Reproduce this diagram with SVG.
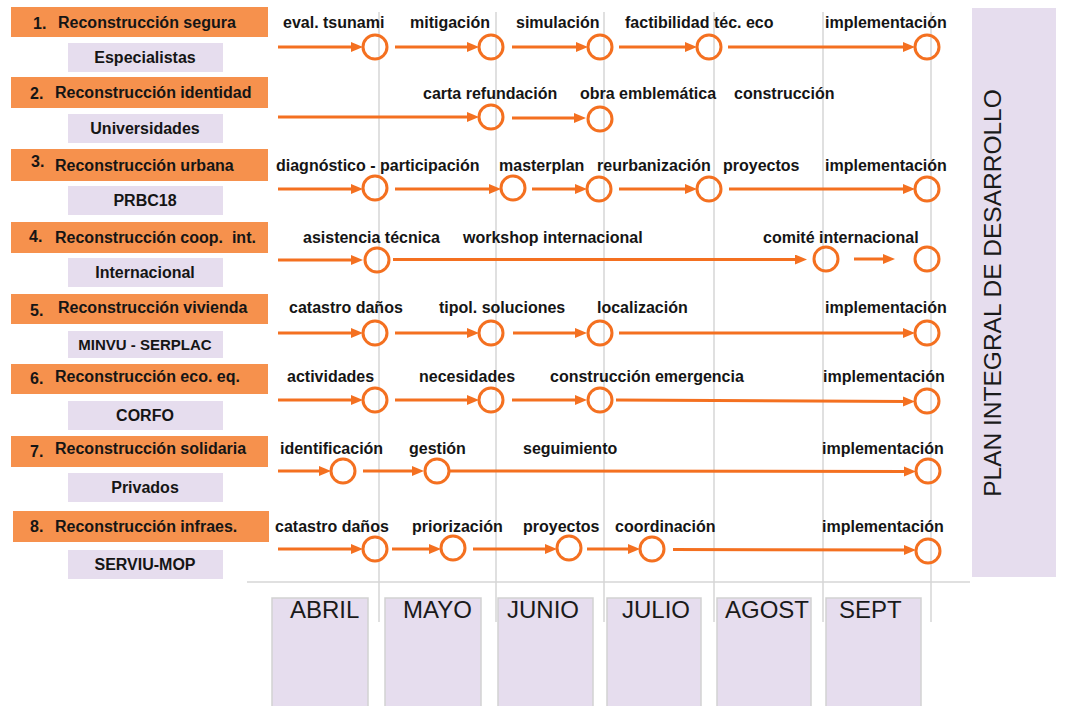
<svg xmlns="http://www.w3.org/2000/svg" width="1065" height="706" viewBox="0 0 1065 706">
<style>
.hdr{fill:#F6914D;}
.own{fill:#E6DDEE;}
.t{font-family:"Liberation Sans",Arial,sans-serif;font-weight:bold;font-size:16px;fill:#151515;}
.n{font-family:"Liberation Sans",Arial,sans-serif;font-weight:bold;font-size:16px;fill:#151515;}
.s{font-family:"Liberation Sans",Arial,sans-serif;font-weight:bold;font-size:15px;fill:#151515;}
.oc{text-anchor:middle;}
.ms{fill:none;stroke:#F47020;stroke-width:3;}
.ar{stroke:#F47020;stroke-width:3;fill:none;marker-end:url(#ah);}
.grid{stroke:#D6D6D6;stroke-width:1.5;fill:none;}
.month{fill:#E6DDEE;stroke:#D2D2D2;stroke-width:1.5;}
.mt{font-family:"Liberation Sans",Arial,sans-serif;font-size:24px;fill:#1a1a1a;}
.ban{fill:#E6DDEE;}
.bt{font-family:"Liberation Sans",Arial,sans-serif;font-size:24.5px;fill:#1a1a1a;text-anchor:middle;}
</style>
<defs>
<marker id="ah" markerUnits="userSpaceOnUse" markerWidth="13" markerHeight="11" refX="4" refY="5" orient="auto">
<path d="M0,0 L12,5 L0,10 z" fill="#F47020"/>
</marker>
</defs>
<rect width="1065" height="706" fill="#ffffff"/>

<g id="grid">
<line class="grid" x1="379" y1="12" x2="379" y2="622"/>
<line class="grid" x1="496" y1="12" x2="496" y2="622"/>
<line class="grid" x1="604" y1="12" x2="604" y2="622"/>
<line class="grid" x1="714" y1="12" x2="714" y2="622"/>
<line class="grid" x1="823" y1="12" x2="823" y2="622"/>
<line class="grid" x1="931" y1="12" x2="931" y2="622"/>
<line class="grid" x1="247" y1="582" x2="970" y2="582"/>
</g>

<g id="banner">
<rect class="ban" x="972" y="8" width="84" height="569"/>
<text class="bt" transform="translate(1001,293) rotate(-90)">PLAN INTEGRAL DE DESARROLLO</text>
</g>

<g id="months">
<g id="m-abril"><rect class="month" x="272" y="598" width="96" height="110"/><text class="mt" x="290" y="618">ABRIL</text></g>
<g id="m-mayo"><rect class="month" x="385" y="598" width="96" height="110"/><text class="mt" x="403" y="618">MAYO</text></g>
<g id="m-junio"><rect class="month" x="498" y="598" width="95" height="110"/><text class="mt" x="507" y="618">JUNIO</text></g>
<g id="m-julio"><rect class="month" x="607" y="598" width="94" height="110"/><text class="mt" x="622" y="618">JULIO</text></g>
<g id="m-agost"><rect class="month" x="717" y="598" width="94" height="110"/><text class="mt" x="725" y="618">AGOST</text></g>
<g id="m-sept"><rect class="month" x="826" y="598" width="95" height="110"/><text class="mt" x="839" y="618">SEPT</text></g>
</g>

<!-- headers -->
<g id="h1"><rect class="hdr" x="11" y="7" width="257" height="30"/><text class="n" x="33" y="29">1.</text><text class="t" x="58" y="28">Reconstrucción segura</text></g>
<g id="o1"><rect class="own" x="68" y="43" width="155" height="29"/><text class="t oc" x="145" y="63">Especialistas</text></g>
<g id="h2"><rect class="hdr" x="11" y="77" width="257" height="31"/><text class="n" x="30" y="99">2.</text><text class="t" x="55" y="98">Reconstrucción identidad</text></g>
<g id="o2"><rect class="own" x="68" y="114" width="155" height="29"/><text class="t oc" x="145" y="134">Universidades</text></g>
<g id="h3"><rect class="hdr" x="11" y="149" width="257" height="32"/><text class="n" x="31" y="167">3.</text><text class="t" x="55" y="171">Reconstrucción urbana</text></g>
<g id="o3"><rect class="own" x="68" y="186" width="155" height="29"/><text class="t oc" x="145" y="206">PRBC18</text></g>
<g id="h4"><rect class="hdr" x="11" y="222" width="257" height="31"/><text class="n" x="29" y="242">4.</text><text class="t" x="55" y="243">Reconstrucción coop.&#160; int.</text></g>
<g id="o4"><rect class="own" x="68" y="258" width="155" height="29"/><text class="t oc" x="145" y="278">Internacional</text></g>
<g id="h5"><rect class="hdr" x="11" y="294" width="257" height="30"/><text class="n" x="30" y="316">5.</text><text class="t" x="58" y="313">Reconstrucción vivienda</text></g>
<g id="o5"><rect class="own" x="68" y="331" width="155" height="27"/><text class="s oc" x="145" y="350">MINVU - SERPLAC</text></g>
<g id="h6"><rect class="hdr" x="11" y="364" width="257" height="30"/><text class="n" x="30" y="384">6.</text><text class="t" x="55" y="382">Reconstrucción eco. eq.</text></g>
<g id="o6"><rect class="own" x="68" y="401" width="155" height="29"/><text class="t oc" x="145" y="421">CORFO</text></g>
<g id="h7"><rect class="hdr" x="11" y="436" width="257" height="31"/><text class="n" x="30" y="457">7.</text><text class="t" x="55" y="454">Reconstrucción solidaria</text></g>
<g id="o7"><rect class="own" x="68" y="473" width="155" height="29"/><text class="t oc" x="145" y="493">Privados</text></g>
<g id="h8"><rect class="hdr" x="13" y="511" width="256" height="31"/><text class="n" x="30" y="532">8.</text><text class="t" x="55" y="532">Reconstrucción infraes.</text></g>
<g id="o8"><rect class="own" x="68" y="550" width="155" height="29"/><text class="t oc" x="145" y="570">SERVIU-MOP</text></g>

<!-- connectors -->
<g id="connectors">
<line class="ar" x1="278" y1="47" x2="355" y2="47"/>
<line class="ar" x1="395" y1="47" x2="471" y2="47"/>
<line class="ar" x1="512" y1="47" x2="580" y2="47"/>
<line class="ar" x1="619" y1="47" x2="689" y2="47"/>
<line class="ar" x1="728" y1="47" x2="907" y2="47"/>

<line class="ar" x1="278" y1="117" x2="471" y2="117"/>
<line class="ar" x1="512" y1="118" x2="578" y2="118"/>

<line class="ar" x1="278" y1="189" x2="355" y2="189"/>
<line class="ar" x1="395" y1="189" x2="493" y2="189"/>
<line class="ar" x1="532" y1="189" x2="579" y2="189"/>
<line class="ar" x1="619" y1="189" x2="689" y2="189"/>
<line class="ar" x1="729" y1="189" x2="907" y2="189"/>

<line class="ar" x1="278" y1="260" x2="355" y2="260"/>
<line class="ar" x1="393" y1="259.5" x2="799" y2="259.5"/>
<line class="ar" x1="854" y1="259" x2="887" y2="259"/>

<line class="ar" x1="278" y1="333" x2="355" y2="333"/>
<line class="ar" x1="395" y1="333" x2="471" y2="333"/>
<line class="ar" x1="513" y1="333" x2="579" y2="333"/>
<line class="ar" x1="619" y1="333" x2="907" y2="333"/>

<line class="ar" x1="278" y1="400" x2="355" y2="400"/>
<line class="ar" x1="395" y1="400" x2="471" y2="400"/>
<line class="ar" x1="512" y1="400" x2="579" y2="400"/>
<line class="ar" x1="616" y1="400" x2="907" y2="401.5"/>

<line class="ar" x1="278" y1="471" x2="323" y2="471"/>
<line class="ar" x1="363" y1="471" x2="416" y2="471"/>
<line class="ar" x1="450" y1="471" x2="908" y2="471.5"/>

<line class="ar" x1="278" y1="549" x2="355" y2="549"/>
<line class="ar" x1="392" y1="549" x2="433" y2="549"/>
<line class="ar" x1="473" y1="549" x2="549" y2="549"/>
<line class="ar" x1="587" y1="549" x2="632" y2="549"/>
<line class="ar" x1="673" y1="549.5" x2="908" y2="550"/>
</g>

<!-- milestones row 1 -->
<g id="r1-1"><circle class="ms" cx="375" cy="47" r="12"/><text class="t" x="283" y="28">eval. tsunami</text></g>
<g id="r1-2"><circle class="ms" cx="491" cy="47" r="12"/><text class="t" x="410" y="28">mitigación</text></g>
<g id="r1-3"><circle class="ms" cx="600" cy="47" r="12"/><text class="t" x="516" y="28">simulación</text></g>
<g id="r1-4"><circle class="ms" cx="709" cy="47" r="12"/><text class="t" x="625" y="28">factibilidad téc. eco</text></g>
<g id="r1-5"><circle class="ms" cx="927" cy="47" r="12"/><text class="t" x="825" y="28">implementación</text></g>
<!-- row 2 -->
<g id="r2-1"><circle class="ms" cx="491" cy="117" r="12"/><text class="t" x="423" y="99">carta refundación</text></g>
<g id="r2-2"><circle class="ms" cx="600" cy="119" r="12"/><text class="t" x="580" y="99">obra emblemática</text></g>
<g id="r2-3"><text class="t" x="734" y="99">construcción</text></g>
<!-- row 3 -->
<g id="r3-1"><circle class="ms" cx="375" cy="188" r="12"/><text class="t" x="276" y="171">diagnóstico - participación</text></g>
<g id="r3-2"><circle class="ms" cx="513" cy="188" r="12"/><text class="t" x="499" y="171">masterplan</text></g>
<g id="r3-3"><circle class="ms" cx="599" cy="189" r="12"/><text class="t" x="597" y="171">reurbanización</text></g>
<g id="r3-4"><circle class="ms" cx="709" cy="189" r="12"/><text class="t" x="723" y="171">proyectos</text></g>
<g id="r3-5"><circle class="ms" cx="927" cy="189" r="12"/><text class="t" x="825" y="171">implementación</text></g>
<!-- row 4 -->
<g id="r4-1"><circle class="ms" cx="377" cy="260" r="12"/><text class="t" x="303" y="243">asistencia técnica</text></g>
<g id="r4-2"><text class="t" x="463" y="243">workshop internacional</text></g>
<g id="r4-3"><circle class="ms" cx="826" cy="259" r="12"/><text class="t" x="763" y="243">comité internacional</text></g>
<g id="r4-4"><circle class="ms" cx="927" cy="259" r="12"/></g>
<!-- row 5 -->
<g id="r5-1"><circle class="ms" cx="375" cy="333" r="12"/><text class="t" x="289" y="313">catastro daños</text></g>
<g id="r5-2"><circle class="ms" cx="491" cy="333" r="12"/><text class="t" x="439" y="313">tipol. soluciones</text></g>
<g id="r5-3"><circle class="ms" cx="600" cy="333" r="12"/><text class="t" x="597" y="313">localización</text></g>
<g id="r5-4"><circle class="ms" cx="927" cy="333" r="12"/><text class="t" x="825" y="313">implementación</text></g>
<!-- row 6 -->
<g id="r6-1"><circle class="ms" cx="375" cy="400" r="12"/><text class="t" x="287" y="382">actividades</text></g>
<g id="r6-2"><circle class="ms" cx="491" cy="400" r="12"/><text class="t" x="419" y="382">necesidades</text></g>
<g id="r6-3"><circle class="ms" cx="600" cy="400" r="12"/><text class="t" x="550" y="382">construcción emergencia</text></g>
<g id="r6-4"><circle class="ms" cx="927" cy="401" r="12"/><text class="t" x="823" y="382">implementación</text></g>
<!-- row 7 -->
<g id="r7-1"><circle class="ms" cx="343" cy="471" r="12"/><text class="t" x="280" y="454">identificación</text></g>
<g id="r7-2"><circle class="ms" cx="437" cy="471" r="12"/><text class="t" x="409" y="454">gestión</text></g>
<g id="r7-3"><text class="t" x="523" y="454">seguimiento</text></g>
<g id="r7-4"><circle class="ms" cx="928" cy="471" r="12"/><text class="t" x="822" y="454">implementación</text></g>
<!-- row 8 -->
<g id="r8-1"><circle class="ms" cx="375" cy="549" r="12"/><text class="t" x="275" y="532">catastro daños</text></g>
<g id="r8-2"><circle class="ms" cx="453" cy="548" r="12"/><text class="t" x="412" y="532">priorización</text></g>
<g id="r8-3"><circle class="ms" cx="569" cy="548" r="12"/><text class="t" x="523" y="532">proyectos</text></g>
<g id="r8-4"><circle class="ms" cx="652" cy="549" r="12"/><text class="t" x="615" y="532">coordinación</text></g>
<g id="r8-5"><circle class="ms" cx="928" cy="551" r="12"/><text class="t" x="822" y="532">implementación</text></g>
</svg>
